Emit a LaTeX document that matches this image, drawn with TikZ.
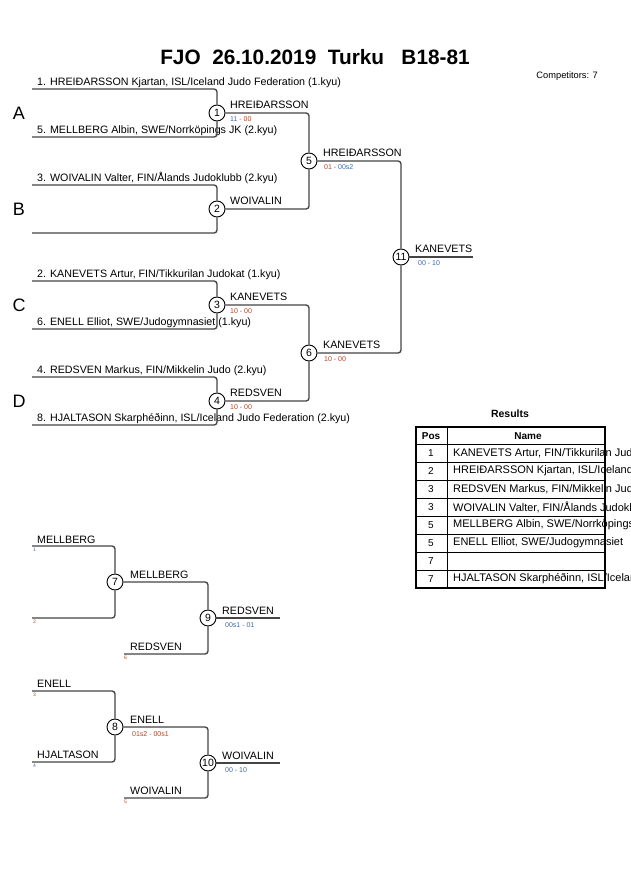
\documentclass[tikz,border=0pt]{standalone}
\usepackage{fontspec}
\setmainfont{Liberation Sans}
\definecolor{lc}{HTML}{444444}
\definecolor{scb}{HTML}{3A6AA8}
\definecolor{scr}{HTML}{A8482A}
\begin{document}
\begin{tikzpicture}[x=1pt,y=-1pt,
  br/.style={draw=lc, line width=1.35pt, rounded corners=3pt},
  mt/.style={circle, draw=black, fill=white, line width=0.9pt, minimum size=16pt, inner sep=0pt, font=\fontsize{10.5}{10.5}\selectfont},
  nm/.style={anchor=base west, inner sep=0pt, font=\fontsize{10.7}{12}\selectfont},
  sc/.style={anchor=base west, inner sep=0pt, font=\fontsize{7}{8}\selectfont},
  sd/.style={anchor=base west, inner sep=0pt, font=\fontsize{5}{6}\selectfont},
  pool/.style={anchor=center, inner sep=0pt, font=\fontsize{18}{20}\selectfont},
  tb/.style={anchor=center, inner sep=0pt, font=\fontsize{10}{11}\selectfont},
  tn/.style={anchor=west, inner sep=0pt, font=\fontsize{11}{12}\selectfont}
]
\useasboundingbox (0,0) rectangle (630,891);

% header
\node[anchor=base, inner sep=0pt, font=\fontsize{20.8}{23}\bfseries] (title) at (315,64) {FJO\ \ 26.10.2019\ \ Turku\ \ \ B18-81};
\node[anchor=base east, inner sep=0pt, font=\fontsize{9.3}{10}\selectfont] (comp) at (598,78) {Competitors: 7};

% pool letters
\node[pool] (pA) at (19,113) {A};
\node[pool] (pB) at (19,209) {B};
\node[pool] (pC) at (19,305) {C};
\node[pool] (pD) at (19,401) {D};

% player names
\node[nm] (n1) at (37,85.5) {1. HREIÐARSSON Kjartan, ISL/Iceland Judo Federation (1.kyu)};
\node[nm] (n5) at (37,133.5) {5. MELLBERG Albin, SWE/Norrköpings JK (2.kyu)};
\node[nm] (n3) at (37,181.5) {3. WOIVALIN Valter, FIN/Ålands Judoklubb (2.kyu)};
\node[nm] (n2) at (37,277.5) {2. KANEVETS Artur, FIN/Tikkurilan Judokat (1.kyu)};
\node[nm] (n6) at (37,325.5) {6. ENELL Elliot, SWE/Judogymnasiet (1.kyu)};
\node[nm] (n4) at (37,373.5) {4. REDSVEN Markus, FIN/Mikkelin Judo (2.kyu)};
\node[nm] (n8) at (37,421.5) {8. HJALTASON Skarphéðinn, ISL/Iceland Judo Federation (2.kyu)};

% entry coordinates
\coordinate (e1) at (32,89);
\coordinate (e5) at (32,137);
\coordinate (e3) at (32,185);
\coordinate (e0) at (32,233);
\coordinate (e2) at (32,281);
\coordinate (e6) at (32,329);
\coordinate (e4) at (32,377);
\coordinate (e8) at (32,425);
\coordinate (f11) at (473,257);

% match circles
\node[mt] (m1) at (217,113) {1};
\node[mt] (m2) at (217,209) {2};
\node[mt] (m3) at (217,305) {3};
\node[mt] (m4) at (217,401) {4};
\node[mt] (m5) at (309,161) {5};
\node[mt] (m6) at (309,353) {6};
\node[mt] (m11) at (401,257) {11};

% connectors
\draw[br] (e1) -| (m1); \draw[br] (e5) -| (m1);
\draw[br] (e3) -| (m2); \draw[br] (e0) -| (m2);
\draw[br] (e2) -| (m3); \draw[br] (e6) -| (m3);
\draw[br] (e4) -| (m4); \draw[br] (e8) -| (m4);
\draw[br] (m1) -| (m5); \draw[br] (m2) -| (m5);
\draw[br] (m3) -| (m6); \draw[br] (m4) -| (m6);
\draw[br] (m5) -| (m11); \draw[br] (m6) -| (m11);
\draw[br] (m11) -- (f11);

% winner labels and scores
\node[nm] (w1) at (230,108.5) {HREIÐARSSON};
\node[sc] (s1) at (230,121) {\textcolor{scb}{11} \textcolor{scr}{- 00}};
\node[nm] (w2) at (230,204.5) {WOIVALIN};
\node[nm] (w3) at (230,300.5) {KANEVETS};
\node[sc] (s3) at (230,313) {\textcolor{scr}{10 - 00}};
\node[nm] (w4) at (230,396.5) {REDSVEN};
\node[sc] (s4) at (230,409) {\textcolor{scr}{10 - 00}};
\node[nm] (w5) at (323,156.5) {HREIÐARSSON};
\node[sc] (s5) at (324,169) {\textcolor{scr}{01 -} \textcolor{scb}{00s2}};
\node[nm] (w6) at (323,348.5) {KANEVETS};
\node[sc] (s6) at (324,361) {\textcolor{scr}{10 - 00}};
\node[nm] (w11) at (415,252.5) {KANEVETS};
\node[sc] (s11) at (418,265) {\textcolor{scb}{00 - 10}};

% results table
\node[anchor=center, inner sep=0pt, font=\fontsize{10.5}{12}\bfseries] (res) at (510,414) {Results};
\node[tb, font=\fontsize{10}{11}\bfseries] (hp) at (431,436) {Pos};
\node[tb, font=\fontsize{10}{11}\bfseries] (hn) at (528,436) {Name};
\foreach \p [count=\i] in {1,2,3,3,5,5,7,7} {
  \node[tb] (rp\i) at (431,444+18*\i-9) {\p};
}
\begin{scope}
\clip (448,444) rectangle (630,588);
\node[tn] (rn1) at (453,453) {KANEVETS Artur, FIN/Tikkurilan Judokat};
\node[tn] (rn2) at (453,471) {HREIÐARSSON Kjartan, ISL/Iceland Judo Federation};
\node[tn] (rn3) at (453,489) {REDSVEN Markus, FIN/Mikkelin Judo};
\node[tn] (rn4) at (453,507) {WOIVALIN Valter, FIN/Ålands Judoklubb};
\node[tn] (rn5) at (453,525) {MELLBERG Albin, SWE/Norrköpings JK};
\node[tn] (rn6) at (453,543) {ENELL Elliot, SWE/Judogymnasiet};
\node[tn] (rn8) at (453,579) {HJALTASON Skarphéðinn, ISL/Iceland Judo Federation};
\end{scope}
\foreach \yy in {444,462,480,498,516,534,552,570} {
  \draw[line width=0.8pt] (416,\yy) -- (605,\yy);
}
\draw[line width=0.8pt] (447,427) -- (447,588);
\draw[line width=1.6pt] (416,427) rectangle (605,588);

% repechage
\node[nm] (rm1) at (37,543) {MELLBERG};
\node[sd, text=scb] (sd1) at (33,551) {1};
\node[sd, text=scr] (sd2) at (33,623) {2};
\node[nm] (rm7) at (130,578) {MELLBERG};
\node[nm] (rr6) at (130,650) {REDSVEN};
\node[sd, text=scr] (sd6) at (124,659) {6};
\node[nm] (rw9) at (222,614) {REDSVEN};
\node[sc] (s9) at (225,627) {\textcolor{scb}{00s1 - 01}};

\node[nm] (re3) at (37,687) {ENELL};
\node[sd, text=scr] (sd3) at (33,696) {3};
\node[nm] (rh4) at (37,758) {HJALTASON};
\node[sd, text=scb] (sd4) at (33,767) {4};
\node[nm] (rw8) at (130,723) {ENELL};
\node[sc] (s8) at (132,736) {\textcolor{scr}{01s2 - 00s1}};
\node[nm] (rv5) at (130,794) {WOIVALIN};
\node[sd, text=scr] (sd5) at (124,803) {5};
\node[nm] (rw10) at (222,759) {WOIVALIN};
\node[sc] (s10) at (225,772) {\textcolor{scb}{00 - 10}};

\coordinate (q1) at (32,546);
\coordinate (q2) at (32,618);
\coordinate (q6) at (124,654);
\coordinate (f9) at (280,618);
\coordinate (q3) at (32,691);
\coordinate (q4) at (32,762);
\coordinate (q5) at (124,798);
\coordinate (f10) at (280,763);

\node[mt] (m7) at (115,582) {7};
\node[mt] (m9) at (208,618) {9};
\node[mt] (m8) at (115,727) {8};
\node[mt] (m10) at (208,763) {10};

\draw[br] (q1) -| (m7); \draw[br] (q2) -| (m7);
\draw[br] (m7) -| (m9); \draw[br] (q6) -| (m9);
\draw[br] (m9) -- (f9);
\draw[br] (q3) -| (m8); \draw[br] (q4) -| (m8);
\draw[br] (m8) -| (m10); \draw[br] (q5) -| (m10);
\draw[br] (m10) -- (f10);
\end{tikzpicture}
\end{document}
